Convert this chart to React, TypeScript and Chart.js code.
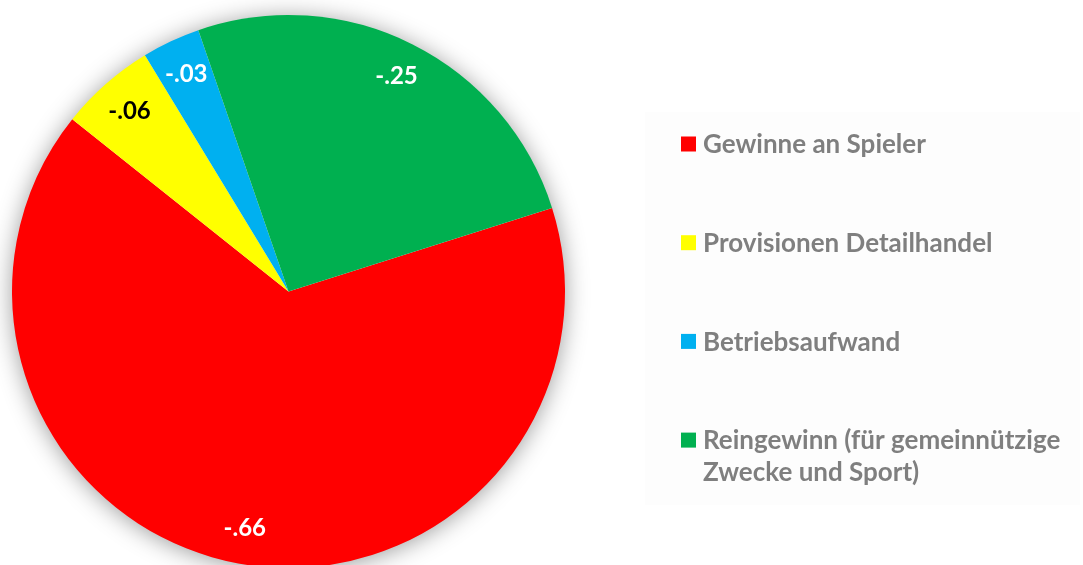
import React, { useEffect, useRef } from "react";
import { Chart, registerables } from "chart.js";

Chart.register(...registerables);

const categories: (string | string[])[] = [
  "Gewinne an Spieler",
  "Provisionen Detailhandel",
  "Betriebsaufwand",
  ["Reingewinn (für gemeinnützige", "Zwecke und Sport)"],
];
const shares = [0.656, 0.056, 0.034, 0.254];
const sliceColors = ["#FF0000", "#FFFF00", "#00B0F0", "#00B050"];
const labelColors = ["#FFFFFF", "#000000", "#FFFFFF", "#FFFFFF"];

const FONT = "Lato, 'Open Sans', sans-serif";

const shadowPlugin = {
  id: "pieShadow",
  beforeDatasetsDraw(chart: any) {
    const meta = chart.getDatasetMeta(0);
    const arc = meta.data[0];
    if (!arc) return;
    const { x, y, outerRadius } = arc.getProps(["x", "y", "outerRadius"], true);
    const ctx = chart.ctx;
    ctx.save();
    ctx.shadowColor = "rgba(0,0,0,0.42)";
    ctx.shadowBlur = 24;
    ctx.shadowOffsetX = 0;
    ctx.shadowOffsetY = 2;
    ctx.fillStyle = "#ffffff";
    ctx.beginPath();
    ctx.arc(x, y, outerRadius - 1, 0, Math.PI * 2);
    ctx.fill();
    ctx.restore();
  },
};

const valueLabelPlugin = {
  id: "valueLabels",
  afterDatasetsDraw(chart: any) {
    const ctx = chart.ctx;
    const meta = chart.getDatasetMeta(0);
    const values = chart.data.datasets[0].data as number[];
    ctx.save();
    ctx.font = `bold 24px ${FONT}`;
    ctx.textAlign = "center";
    ctx.textBaseline = "middle";
    meta.data.forEach((el: any, i: number) => {
      const { x, y, startAngle, endAngle, outerRadius } = el.getProps(
        ["x", "y", "startAngle", "endAngle", "outerRadius"],
        true
      );
      const mid = (startAngle + endAngle) / 2;
      const r = outerRadius * 0.87;
      const text = "-" + values[i].toFixed(2).replace(/^0/, "");
      ctx.fillStyle = labelColors[i];
      ctx.fillText(text, x + Math.cos(mid) * r, y + Math.sin(mid) * r);
    });
    ctx.restore();
  },
};

const legendPlugin = {
  id: "sideLegend",
  beforeDraw(chart: any) {
    const ctx = chart.ctx;
    ctx.save();
    ctx.fillStyle = "#fdfdfd";
    ctx.fillRect(645, 112, 435, 393);
    ctx.restore();
  },
  afterDraw(chart: any) {
    const ctx = chart.ctx;
    const labels = chart.data.labels as (string | string[])[];
    const colors = chart.data.datasets[0].backgroundColor as string[];
    const startY = 144;
    const step = 98.7;
    const lineH = 32;
    ctx.save();
    ctx.font = `bold 26px ${FONT}`;
    ctx.textBaseline = "middle";
    ctx.textAlign = "left";
    labels.forEach((lab, i) => {
      const cy = startY + i * step;
      ctx.fillStyle = colors[i];
      ctx.fillRect(681, cy - 7.5, 15, 15);
      ctx.fillStyle = "#7F7F7F";
      const lines = Array.isArray(lab) ? lab : [lab];
      lines.forEach((ln, j) => {
        ctx.fillText(ln, 703, cy + 1 + j * lineH);
      });
    });
    ctx.restore();
  },
};

export default function App() {
  const ref = useRef<HTMLCanvasElement | null>(null);
  useEffect(() => {
    document.body.style.margin = "0";
    if (!ref.current) return;
    const chart = new Chart(ref.current, {
      type: "pie",
      data: {
        labels: categories,
        datasets: [
          {
            data: shares,
            backgroundColor: sliceColors,
            borderWidth: 0,
          },
        ],
      },
      options: {
        animation: false,
        responsive: false,
        rotation: 72.4,
        layout: { padding: { left: 12, right: 518, top: 15, bottom: 2 } },
        plugins: {
          legend: { display: false },
          tooltip: { enabled: false },
        },
      },
      plugins: [legendPlugin, shadowPlugin, valueLabelPlugin],
    });
    return () => chart.destroy();
  }, []);
  return (
    <div style={{ width: 1083, height: 565, overflow: "hidden", position: "relative", background: "#fff" }}>
      <canvas ref={ref} width={1083} height={570} style={{ display: "block" }} />
    </div>
  );
}
